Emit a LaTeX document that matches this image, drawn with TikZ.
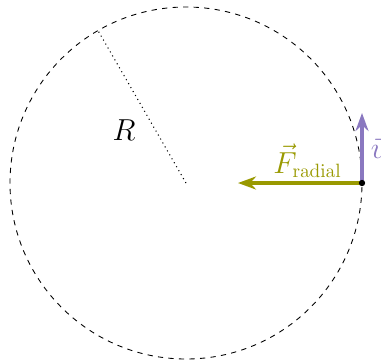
\documentclass[tikz,border=0pt]{standalone}
\usepackage{tikz}
\usetikzlibrary{arrows.meta,positioning,calc}
\definecolor{circforce}{HTML}{999900}
\definecolor{circvel}{HTML}{8A78C0}
\tikzset{
  orbit/.style={dashed, line width=0.5pt, draw=black},
  radius/.style={dotted, line width=0.6pt, draw=black},
  vecarrow/.style={-{Stealth[length=3.6mm, width=2.6mm]}, line width=2pt},
  vlabel/.style={font=\fontsize{16}{19}\selectfont, inner sep=1pt},
}
\begin{document}
\begin{tikzpicture}
\useasboundingbox (-3.72,-3.58) rectangle (3.90,3.66);
\coordinate (O) at (0,0);
\coordinate (P) at (3.52,0);
\draw[orbit] (O) circle (3.52);
\draw[radius] (O) -- (120:3.52);
\node[vlabel] (Rlab) at (-1.24,1.06) {$R$};
\draw[vecarrow, circforce] (P) -- ++(-2.48,0) coordinate (Fend)
  node[vlabel, pos=0.44, above=1pt, text=circforce] (Flab) {$\vec{F}_{\mathrm{radial}}$};
\draw[vecarrow, circvel] (P) -- ++(0,1.4) coordinate (vend)
  node[vlabel, pos=0.5, right=3pt, text=circvel] (vlab) {$\vec{v}$};
\fill (P) circle (1.8pt);
\end{tikzpicture}
\end{document}
